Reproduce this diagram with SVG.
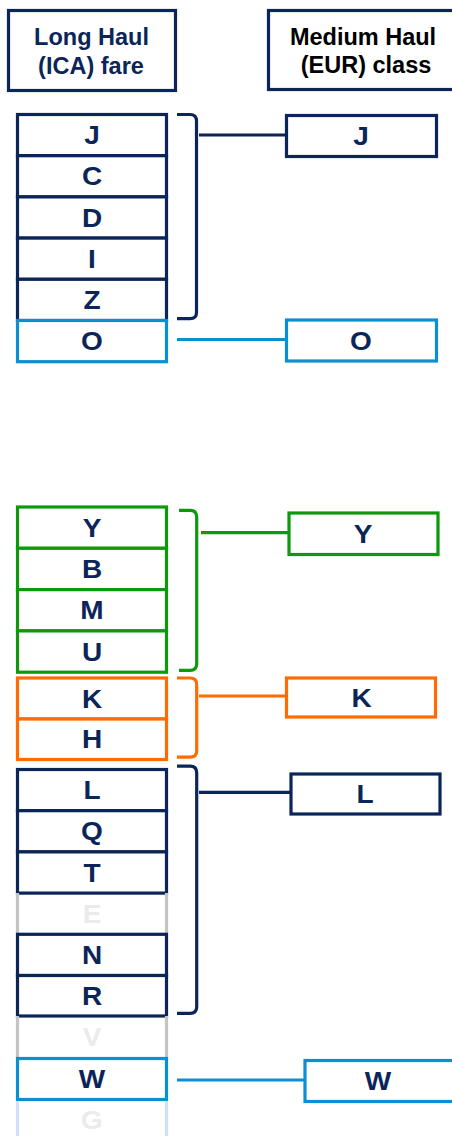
<svg xmlns="http://www.w3.org/2000/svg" width="452" height="1136" viewBox="0 0 452 1136">
<style>
rect{fill:#fff;stroke-width:3.2}
.nv{stroke:#0b2559}
.bl{stroke:#0a8fd2}
.gr{stroke:#0c9a0c}
.or{stroke:#ff6b00}
.hd{font-family:"Liberation Sans",Arial,sans-serif;font-weight:bold;font-size:23.5px;text-anchor:middle}
.lt{font-family:"Liberation Sans",Arial,sans-serif;font-weight:bold;font-size:25px;text-anchor:middle;fill:#0b2559}
.gh{fill:#ebebeb}
.side{fill:none;stroke-width:3.2}
.con{fill:none;stroke-width:3.2}
</style>
<rect width="452" height="1136" style="fill:#fff;stroke:none"/>

<g id="header-long">
<rect class="nv" x="8.5" y="10.5" width="167" height="80"/>
<text class="hd" x="91.5" y="45" fill="#0b2559">Long Haul</text>
<text class="hd" x="91" y="74" fill="#0b2559">(ICA) fare</text>
</g>
<g id="header-medium">
<rect class="nv" x="268.5" y="10.5" width="200" height="79"/>
<text class="hd" x="363" y="45" fill="#000">Medium Haul</text>
<text class="hd" x="366" y="73" fill="#000">(EUR) class</text>
</g>

<g id="fare-J"><rect class="nv" x="17.5" y="114.5" width="149" height="41.2"/><text class="lt" transform="translate(92,144.1) scale(1.12,1)">J</text></g>
<g id="fare-C"><rect class="nv" x="17.5" y="155.7" width="149" height="41.2"/><text class="lt" transform="translate(92,185.3) scale(1.12,1)">C</text></g>
<g id="fare-D"><rect class="nv" x="17.5" y="196.9" width="149" height="41.2"/><text class="lt" transform="translate(92,226.5) scale(1.12,1)">D</text></g>
<g id="fare-I"><rect class="nv" x="17.5" y="238.1" width="149" height="41.2"/><text class="lt" transform="translate(92,267.7) scale(1.12,1)">I</text></g>
<g id="fare-Z"><rect class="nv" x="17.5" y="279.3" width="149" height="41.2"/><text class="lt" transform="translate(92,308.9) scale(1.12,1)">Z</text></g>
<g id="fare-O"><rect class="bl" x="17.5" y="320.5" width="149" height="41.2"/><text class="lt" transform="translate(92,350.1) scale(1.12,1)">O</text></g>

<g id="fare-Y"><rect class="gr" x="17.5" y="507" width="149" height="41.3"/><text class="lt" transform="translate(92,536.6) scale(1.12,1)">Y</text></g>
<g id="fare-B"><rect class="gr" x="17.5" y="548.3" width="149" height="41.3"/><text class="lt" transform="translate(92,577.9) scale(1.12,1)">B</text></g>
<g id="fare-M"><rect class="gr" x="17.5" y="589.6" width="149" height="41.3"/><text class="lt" transform="translate(92,619.2) scale(1.12,1)">M</text></g>
<g id="fare-U"><rect class="gr" x="17.5" y="630.9" width="149" height="41.3"/><text class="lt" transform="translate(92,660.5) scale(1.12,1)">U</text></g>

<g id="fare-K"><rect class="or" x="17.5" y="678" width="149" height="41"/><text class="lt" transform="translate(92,707.5) scale(1.12,1)">K</text></g>
<g id="fare-H"><rect class="or" x="17.5" y="719" width="149" height="40.5"/><text class="lt" transform="translate(92,748.2) scale(1.12,1)">H</text></g>

<g id="fare-L"><rect class="nv" x="17.5" y="769.5" width="149" height="41.2"/><text class="lt" transform="translate(92,799.1) scale(1.12,1)">L</text></g>
<g id="fare-Q"><rect class="nv" x="17.5" y="810.7" width="149" height="41.2"/><text class="lt" transform="translate(92,840.3) scale(1.12,1)">Q</text></g>
<g id="fare-T"><rect class="nv" x="17.5" y="851.9" width="149" height="41.2"/><text class="lt" transform="translate(92,881.5) scale(1.12,1)">T</text></g>
<g id="fare-E"><path class="side" stroke="#c4c4c4" d="M17.5,893.1 V934.3 M166.5,893.1 V934.3"/><text class="lt gh" transform="translate(92,922.7) scale(1.12,1)">E</text></g>
<g id="fare-N"><rect class="nv" x="17.5" y="934.3" width="149" height="41.2"/><text class="lt" transform="translate(92,963.9) scale(1.12,1)">N</text></g>
<g id="fare-R"><rect class="nv" x="17.5" y="975.5" width="149" height="40.5"/><text class="lt" transform="translate(92,1004.8) scale(1.12,1)">R</text></g>
<g id="fare-V"><path class="side" stroke="#c4c4c4" d="M17.5,1016 V1058.5 M166.5,1016 V1058.5"/><text class="lt gh" transform="translate(92,1046.3) scale(1.12,1)">V</text></g>
<g id="fare-W"><rect class="bl" x="17.5" y="1058.5" width="149" height="41"/><text class="lt" transform="translate(92,1088) scale(1.12,1)">W</text></g>
<g id="fare-G"><path class="side" stroke="#cfe0fb" d="M17.5,1101 V1136 M166.5,1101 V1136"/><text class="lt gh" transform="translate(92,1129) scale(1.12,1)">G</text></g>

<g id="class-J"><rect class="nv" x="286.5" y="115.5" width="150" height="41"/><text class="lt" transform="translate(361,145) scale(1.12,1)">J</text></g>
<g id="class-O"><rect class="bl" x="286.5" y="320" width="150" height="41"/><text class="lt" transform="translate(361,349.5) scale(1.12,1)">O</text></g>
<g id="class-Y"><rect class="gr" x="289" y="513" width="149" height="41.5"/><text class="lt" transform="translate(363,542.7) scale(1.12,1)">Y</text></g>
<g id="class-K"><rect class="or" x="286.5" y="678" width="149" height="39"/><text class="lt" transform="translate(361.7,706.5) scale(1.12,1)">K</text></g>
<g id="class-L"><rect class="nv" x="291" y="774" width="149" height="40"/><text class="lt" transform="translate(365,803) scale(1.12,1)">L</text></g>
<g id="class-W"><rect class="bl" x="305" y="1060.5" width="200" height="41"/><text class="lt" transform="translate(378,1090) scale(1.12,1)">W</text></g>

<g id="connectors">
<path class="con" stroke="#0b2559" d="M177,114.5 H190 Q196.5,114.5 196.5,121 V312.5 Q196.5,318.7 190,318.7 H177"/>
<path class="con" stroke="#0b2559" d="M199,135 H286.5"/>
<path class="con" stroke="#0a8fd2" d="M177,339.5 H286.5"/>
<path class="con" stroke="#0c9a0c" d="M179,510.3 H190 Q196.7,510.3 196.7,517 V664 Q196.7,670.3 190,670.3 H179"/>
<path class="con" stroke="#0c9a0c" d="M201,532.7 H289"/>
<path class="con" stroke="#ff6b00" d="M177,678 H190 Q196.7,678 196.7,684.5 V751 Q196.7,757.2 190,757.2 H177"/>
<path class="con" stroke="#ff6b00" d="M199,696 H286.5"/>
<path class="con" stroke="#0b2559" d="M177,766.2 H190 Q196.7,766.2 196.7,773 V1007 Q196.7,1013.3 190,1013.3 H177"/>
<path class="con" stroke="#0b2559" d="M199,792.3 H291"/>
<path class="con" stroke="#0a8fd2" d="M177,1080 H305"/>
</g>
</svg>
